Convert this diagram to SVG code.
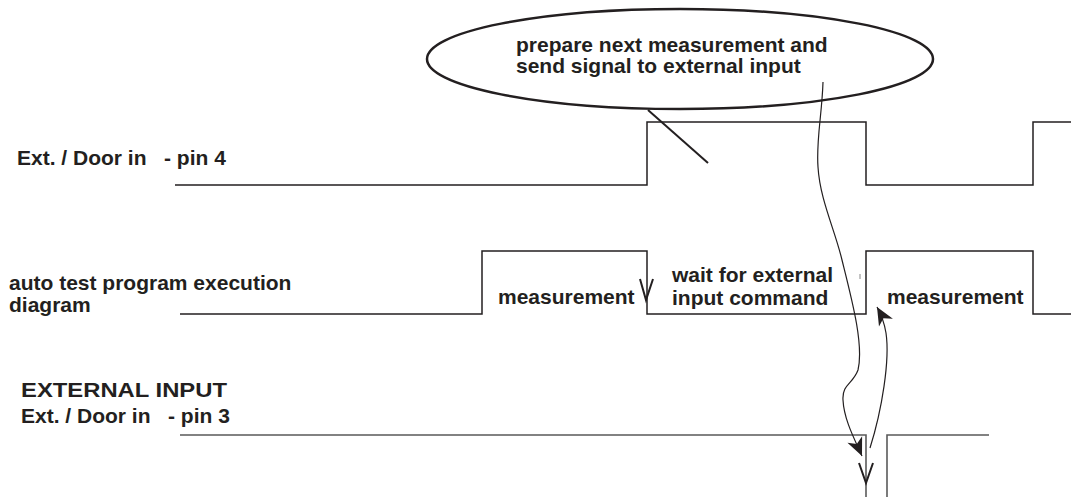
<svg xmlns="http://www.w3.org/2000/svg" width="1071" height="497" viewBox="0 0 1071 497">
  <style>
    text { font-family: "Liberation Sans", Arial, sans-serif; font-weight: bold; font-size: 21px; fill: #231f20; white-space: pre; }
    .sig { fill: none; stroke: #231f20; stroke-width: 1.5; }
    .sig3 { fill: none; stroke: #5a5a5a; stroke-width: 1.6; }
    .vee { fill: none; stroke: #231f20; stroke-width: 2; }
    .curve { fill: none; stroke: #231f20; stroke-width: 1.2; }
  </style>
  <defs>
    <marker id="ah" markerUnits="userSpaceOnUse" markerWidth="22" markerHeight="20" viewBox="-20 -10 22 20" refX="0" refY="0" orient="auto">
      <path d="M0,0 L-18,-8 L-13,0 L-18,8 Z" fill="#231f20"/>
    </marker>
  </defs>
  <rect width="1071" height="497" fill="#ffffff"/>

  <g id="callout">
    <ellipse cx="680" cy="59" rx="253" ry="50" fill="none" stroke="#231f20" stroke-width="2.5"/>
    <text x="516" y="52">prepare next measurement and</text>
    <text x="516" y="73">send signal to external input</text>
  </g>

  <g id="pin4">
    <text x="17" y="165">Ext. / Door in   - pin 4</text>
    <polyline class="sig" points="175,185 647,185 647,122 866,122 866,185 1033,185 1033,122 1071,122"/>
  </g>

  <g id="program">
    <text x="9" y="290">auto test program execution</text>
    <text x="9" y="312">diagram</text>
    <polyline class="sig" points="180,314 482,314 482,251 647,251 647,314 866,314 866,251 1033,251 1033,314 1071,314"/>
    <text x="498" y="304">measurement</text>
    <text x="672" y="282">wait for external</text>
    <text x="672" y="305">input command</text>
    <text x="887" y="304">measurement</text>
    <polyline class="vee" points="640,279 646,300 653,279"/>
    <line x1="860" y1="274" x2="860" y2="279" stroke="#888" stroke-width="1"/>
  </g>

  <g id="pin3">
    <text x="21" y="397" textLength="206" lengthAdjust="spacingAndGlyphs" style="font-size:21px">EXTERNAL INPUT</text>
    <text x="21" y="423">Ext. / Door in   - pin 3</text>
    <polyline class="sig3" points="180,435 866,435 866,497"/>
    <polyline class="sig3" points="887,497 887,435 989,435"/>
    <polyline class="vee" points="859,463 866,483 873,463"/>
  </g>

  <g id="connectors">
    <line x1="648" y1="110" x2="708" y2="163" stroke="#231f20" stroke-width="2"/>
    <path class="curve" d="M 823 82 C 822 115, 816 140, 818 167 C 820 200, 835 230, 842 260 C 852 300, 864 345, 858 370 C 853 384, 842 384, 843 400 C 844 420, 855 440, 862 456" marker-end="url(#ah)"/>
    <path class="curve" d="M 870 448 C 882 410, 890 360, 886 333 C 884 321, 881 314, 877 307" marker-end="url(#ah)"/>
  </g>
</svg>
